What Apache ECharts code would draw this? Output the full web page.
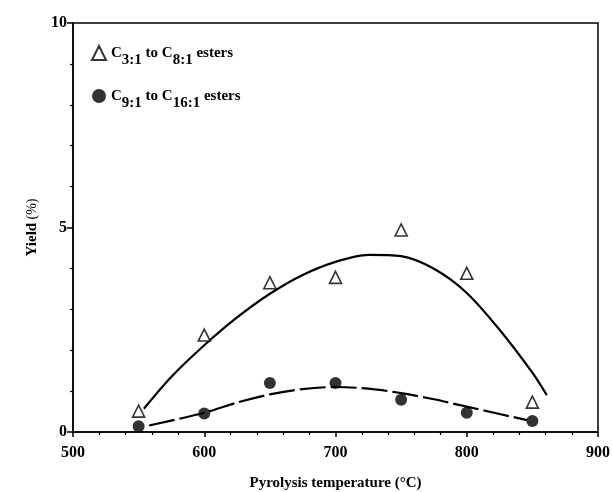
<!DOCTYPE html>
<html>
<head>
<meta charset="utf-8">
<script src="https://cdn.jsdelivr.net/npm/echarts@6/dist/echarts.min.js"></script>
<style>
  html, body { margin: 0; padding: 0; background: #fff; }
  #chart { width: 612px; height: 492px; }
</style>
</head>
<body>
<div id="chart"></div>
<script>
// measured points
const temps = [550, 600, 650, 700, 750, 800, 850];
const shortEsters = [0.51, 2.37, 3.65, 3.78, 4.94, 3.88, 0.73];   // C3:1 to C8:1
const longEsters = [0.14, 0.45, 1.2, 1.2, 0.79, 0.47, 0.27];      // C9:1 to C16:1

// fitted curves as drawn
const fitShortX = [554, 575, 600, 625, 650, 675, 700, 725, 750, 775, 800, 825, 850, 861];
const fitShortY = [0.57, 1.35, 2.12, 2.80, 3.38, 3.84, 4.16, 4.33, 4.30, 3.99, 3.40, 2.50, 1.45, 0.90];
const fitLongX = [558, 600, 625, 650, 675, 700, 725, 750, 775, 800, 825, 846];
const fitLongY = [0.16, 0.47, 0.72, 0.92, 1.05, 1.10, 1.06, 0.95, 0.80, 0.62, 0.44, 0.29];

const xTicks = [500, 600, 700, 800, 900];
const yTicks = [0, 5, 10];

const pairs = (xs, ys) => xs.map((x, i) => [x, ys[i]]);

const font = 'Liberation Serif';
const chart = echarts.init(document.getElementById('chart'));

chart.setOption({
  animation: false,
  grid: {
    left: 73, right: 14, top: 23, bottom: 60,
    outerBoundsMode: 'none',
    show: true, borderColor: '#000', borderWidth: 1.5
  },
  legend: {
    orient: 'vertical',
    left: 86, top: 40,
    itemGap: 20,
    itemWidth: 14, itemHeight: 14,
    data: ['short', 'long'],
    formatter: function (name) {
      if (name === 'short') return '{c|C}{s|3:1}{c| to C}{s|8:1}{c| esters}';
      return '{c|C}{s|9:1}{c| to C}{s|16:1}{c| esters}';
    },
    textStyle: {
      rich: {
        c: { fontFamily: font, fontWeight: 'bold', fontSize: 15, color: '#000', verticalAlign: 'bottom', lineHeight: 16 },
        s: { fontFamily: font, fontWeight: 'bold', fontSize: 15, color: '#000', verticalAlign: 'top', padding: [8, 0, 0, 0], lineHeight: 16 }
      }
    }
  },
  xAxis: {
    type: 'value',
    min: 500, max: 900, interval: 100,
    name: 'Pyrolysis temperature (°C)',
    nameLocation: 'middle', nameGap: 44,
    nameTextStyle: { fontFamily: font, fontWeight: 'bold', fontSize: 15, color: '#000' },
    axisLine: { show: true, onZero: false, lineStyle: { color: '#000', width: 1.5 } },
    axisTick: { show: true, inside: false, length: 5, lineStyle: { color: '#000', width: 1.5 } },
    minorTick: { show: true, splitNumber: 5, length: 3, lineStyle: { color: '#000', width: 1.2 } },
    axisLabel: {
      margin: 13,
      fontFamily: font, fontWeight: 'bold', fontSize: 16, color: '#000',
      formatter: v => xTicks.includes(v) ? String(v) : ''
    },
    splitLine: { show: false }
  },
  yAxis: {
    type: 'value',
    min: 0, max: 10, interval: 5,
    name: '{b|Yield} {n|(%)}',
    nameLocation: 'middle', nameGap: 33,
    nameTextStyle: {
      rich: {
        b: { fontFamily: font, fontWeight: 'bold', fontSize: 15, color: '#000' },
        n: { fontFamily: font, fontSize: 14, color: '#000' }
      }
    },
    axisLine: { show: true, onZero: false, lineStyle: { color: '#000', width: 1.5 } },
    axisTick: { show: true, inside: false, length: 6, lineStyle: { color: '#000', width: 1.5 } },
    minorTick: { show: true, splitNumber: 5, length: 3, lineStyle: { color: '#000', width: 1.2 } },
    axisLabel: {
      margin: 6,
      fontFamily: font, fontWeight: 'bold', fontSize: 16, color: '#000',
      formatter: v => yTicks.includes(v) ? String(v) : ''
    },
    splitLine: { show: false }
  },
  series: [
    {
      name: 'shortFit', type: 'line', smooth: 0.3,
      data: pairs(fitShortX, fitShortY),
      showSymbol: false, symbol: 'none',
      lineStyle: { color: '#000', width: 2.2 },
      z: 2
    },
    {
      name: 'longFit', type: 'line', smooth: 0.3,
      data: pairs(fitLongX, fitLongY),
      showSymbol: false, symbol: 'none',
      lineStyle: { color: '#000', width: 2.2, type: [26, 5] },
      z: 2
    },
    {
      name: 'short', type: 'scatter',
      data: pairs(temps, shortEsters),
      symbol: 'triangle', symbolSize: 12,
      itemStyle: { color: '#fff', borderColor: '#000', borderWidth: 1.6 },
      z: 3
    },
    {
      name: 'long', type: 'scatter',
      data: pairs(temps, longEsters),
      symbol: 'circle', symbolSize: 12,
      itemStyle: { color: '#000' },
      z: 3
    }
  ]
});
</script>
</body>
</html>
